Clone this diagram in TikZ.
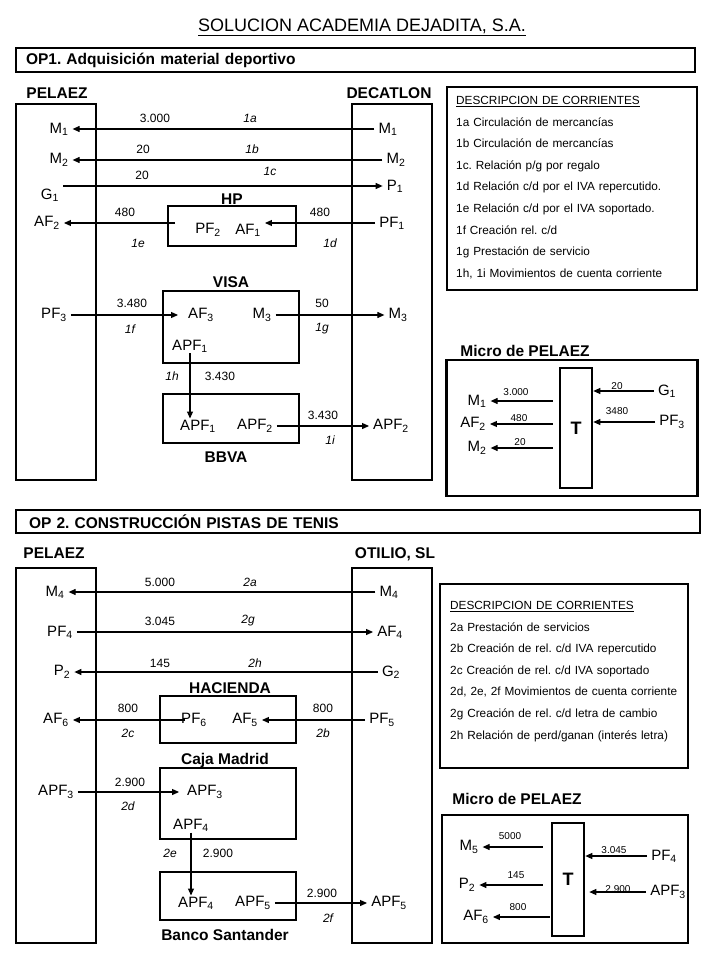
\documentclass[tikz,border=0pt]{standalone}
\usepackage{fontspec}
\setmainfont{Liberation Sans}
\usetikzlibrary{arrows.meta}
\frenchspacing

\begin{document}
\begin{tikzpicture}[x=1pt,y=-1pt, every node/.style={font=\fontsize{15}{17}\selectfont},
  caja/.style={draw,line width=2.6pt,inner sep=0pt},
  rotulo/.style={font=\bfseries\fontsize{15.5}{17}\selectfont,inner sep=0pt},
  cabecera/.style={caja,align=left,font=\bfseries\fontsize{15.5}{17}\selectfont},
  cta/.style={inner xsep=4pt,inner ysep=1pt},
  cifra/.style={font=\fontsize{12}{14}\selectfont,inner sep=0pt},
  letra/.style={font=\itshape\fontsize{12}{14}\selectfont,inner sep=0pt},
  mini/.style={font=\fontsize{10}{12}\selectfont,inner sep=0pt},
  descr/.style={anchor=north west,inner sep=0pt,text width=236pt,align=left,
                font=\fontsize{11.8}{21.6}\selectfont},
  letraT/.style={caja,font=\bfseries\fontsize{18}{20}\selectfont},
  flecha/.style={-{Triangle[length=7pt,width=6pt]},line width=1.1pt}]
\useasboundingbox (0,0) rectangle (720,960);

\node[font=\fontsize{18}{20}\selectfont] (titulo) at (362,27) {\underline{SOLUCION ACADEMIA DEJADITA, S.A.}};

% ---- OP1 ----
\node[cabecera,minimum width=679pt,minimum height=24pt,text width=659pt] (op1) at (355.5,60) {OP1. Adquisición material deportivo};
\node[caja,minimum width=80pt,minimum height=376pt] (pelaez1) at (56,292) {};
\node[caja,minimum width=80pt,minimum height=376pt] (decatlon) at (392,292) {};
\node[rotulo] (lpelaez1) at (57,93) {PELAEZ};
\node[rotulo] (ldecatlon) at (389,93) {DECATLON};
\node[caja,minimum width=128pt,minimum height=40pt] (hp) at (232,226) {};
\node[rotulo] (lhp) at (232,199) {HP};
\node[caja,minimum width=136pt,minimum height=72pt] (visa) at (231,327) {};
\node[rotulo] (lvisa) at (231,282) {VISA};
\node[caja,minimum width=136pt,minimum height=49pt] (bbva) at (231,418.5) {};
\node[rotulo] (lbbva) at (226,457) {BBVA};

\node[cta] (pM1) at (59,129) {M\textsubscript{1}};
\node[cta] (dM1) at (388,129) {M\textsubscript{1}};
\node[cta] (pM2) at (59,160) {M\textsubscript{2}};
\node[cta] (dM2) at (396,160) {M\textsubscript{2}};
\node[cta] (pG1) at (50,195) {G\textsubscript{1}};
\node[cta] (dP1) at (395,186) {P\textsubscript{1}};
\node[cta] (pAF2) at (47,223) {AF\textsubscript{2}};
\node[cta] (hPF2) at (208,230) {PF\textsubscript{2}};
\node[cta] (hAF1) at (248,230) {AF\textsubscript{1}};
\node[cta] (dPF1) at (392,223) {PF\textsubscript{1}};
\node[cta] (pPF3) at (54,315) {PF\textsubscript{3}};
\node[cta] (vAF3) at (201,315) {AF\textsubscript{3}};
\node[cta] (vM3) at (262,315) {M\textsubscript{3}};
\node[cta] (dM3) at (398,315) {M\textsubscript{3}};
\node[cta] (vAPF1) at (190,346) {APF\textsubscript{1}};
\node[cta] (bAPF1) at (198,426) {APF\textsubscript{1}};
\node[cta] (bAPF2) at (255,426) {APF\textsubscript{2}};
\node[cta] (dAPF2) at (391,426) {APF\textsubscript{2}};
\coordinate (hpSal) at (175,223);

\draw[flecha] (dM1) -- (pM1);
\draw[flecha] (dM2) -- (pM2);
\draw[flecha] (pG1.east |- dP1) -- (dP1);
\draw[flecha] (hpSal) -- (pAF2);
\draw[flecha] (dPF1) -- (hAF1.east |- dPF1);
\draw[flecha,shorten >=6pt] (pPF3) -- (vAF3);
\draw[flecha] (vM3) -- (dM3);
\draw[flecha] (vAPF1) -- (vAPF1 |- bAPF1.north);
\draw[flecha] (bAPF2) -- (dAPF2);

\foreach \x/\y/\t [count=\i] in {155/118/3.000, 143/149/20, 142/175/20, 125/212/480, 320/212/480,
    132/303/3.480, 322/303/50, 220/376/3.430, 323/415/3.430}
  \node[cifra] (cifra1-\i) at (\x,\y) {\t};
\foreach \x/\y/\t [count=\i] in {250/118/1a, 252/149/1b, 270/171/1c, 330/243/1d, 138/243/1e,
    130/329/1f, 322/329/1g, 172/376/1h, 330/440/1i}
  \node[letra] (letra1-\i) at (\x,\y) {\t};

\node[caja,minimum width=250pt,minimum height=203pt] (desc1) at (572,188.5) {};
\node[descr] (tdesc1) at (456,96) {\underline{DESCRIPCION DE CORRIENTES}\\
  1a Circulación de mercancías\\
  1b Circulación de mercancías\\
  1c. Relación p/g por regalo\\
  1d Relación c/d por el IVA repercutido.\\
  1e Relación c/d por el IVA soportado.\\
  1f Creación rel. c/d\\
  1g Prestación de servicio\\
  1h, 1i Movimientos de cuenta corriente};

% micro 1
\node[rotulo] (lmicro1) at (525,351) {Micro de PELAEZ};
\node[caja,minimum width=251pt,minimum height=136pt] (micro1) at (572,428) {};
\node[letraT,minimum width=32pt,minimum height=120pt] (tbox1) at (576,428) {T};
\node[cta] (mM1) at (477,401) {M\textsubscript{1}};
\node[cta] (mAF2) at (473,424) {AF\textsubscript{2}};
\node[cta] (mM2) at (477,448) {M\textsubscript{2}};
\node[cta] (mG1) at (667,391) {G\textsubscript{1}};
\node[cta] (mPF3) at (672,422) {PF\textsubscript{3}};
\foreach \n in {mM1, mAF2, mM2}
  \draw[flecha,shorten <=6pt] (tbox1.west |- \n) -- (\n);
\foreach \n in {mG1, mPF3}
  \draw[flecha] (\n) -- (tbox1.east |- \n);
\foreach \x/\y/\t [count=\i] in {516/392/3.000, 519/418/480, 520/442/20, 617/386/20, 617/411/3480}
  \node[mini] (mini1-\i) at (\x,\y) {\t};

% ---- OP2 ----
\node[cabecera,minimum width=684pt,minimum height=23pt,text width=658pt] (op2) at (358,521.5) {OP 2. CONSTRUCCIÓN PISTAS DE TENIS};
\node[caja,minimum width=80pt,minimum height=375pt] (pelaez2) at (56,755.5) {};
\node[caja,minimum width=80pt,minimum height=375pt] (otilio) at (392,755.5) {};
\node[rotulo] (lpelaez2) at (54,553) {PELAEZ};
\node[rotulo] (lotilio) at (395,554) {OTILIO, SL};
\node[caja,minimum width=136pt,minimum height=47pt] (hacienda) at (228,719.5) {};
\node[rotulo] (lhacienda) at (230,688) {HACIENDA};
\node[caja,minimum width=136pt,minimum height=71pt] (cajamadrid) at (228,803.5) {};
\node[rotulo] (lcajamadrid) at (225,760) {Caja Madrid};
\node[caja,minimum width=136pt,minimum height=48pt] (santander) at (228,896) {};
\node[rotulo] (lsantander) at (225,935) {Banco Santander};

\node[cta] (pM4) at (55,592) {M\textsubscript{4}};
\node[cta] (oM4) at (389,592) {M\textsubscript{4}};
\node[cta] (pPF4) at (60,632) {PF\textsubscript{4}};
\node[cta] (oAF4) at (390,632) {AF\textsubscript{4}};
\node[cta] (pP2) at (62,672) {P\textsubscript{2}};
\node[cta] (oG2) at (391,672) {G\textsubscript{2}};
\node[cta] (pAF6) at (56,720) {AF\textsubscript{6}};
\node[cta] (hPF6) at (194,720) {PF\textsubscript{6}};
\node[cta] (hAF5) at (245,720) {AF\textsubscript{5}};
\node[cta] (oPF5) at (382,720) {PF\textsubscript{5}};
\node[cta] (pAPF3) at (56,792) {APF\textsubscript{3}};
\node[cta] (cAPF3) at (205,792) {APF\textsubscript{3}};
\node[cta] (cAPF4) at (191,825) {APF\textsubscript{4}};
\node[cta] (sAPF4) at (196,903) {APF\textsubscript{4}};
\node[cta] (sAPF5) at (253,903) {APF\textsubscript{5}};
\node[cta] (oAPF5) at (389,903) {APF\textsubscript{5}};

\draw[flecha] (oM4) -- (pM4);
\draw[flecha] (pPF4) -- (oAF4);
\draw[flecha] (oG2) -- (pP2);
\draw[flecha,shorten <=-8pt] (hPF6) -- (pAF6);
\draw[flecha] (oPF5) -- (hAF5);
\draw[flecha,shorten >=4pt] (pAPF3) -- (cAPF3);
\draw[flecha] (cAPF4) -- (cAPF4 |- sAPF4.north);
\draw[flecha] (sAPF5) -- (oAPF5);

\foreach \x/\y/\t [count=\i] in {160/582/5.000, 160/621/3.045, 160/663/145, 128/708/800, 323/708/800,
    130/782/2.900, 218/853/2.900, 322/893/2.900}
  \node[cifra] (cifra2-\i) at (\x,\y) {\t};
\foreach \x/\y/\t [count=\i] in {250/582/2a, 248/621/2g, 255/663/2h, 128/733/2c, 323/733/2b,
    128/806/2d, 170/853/2e, 328/918/2f}
  \node[letra] (letra2-\i) at (\x,\y) {\t};

\node[caja,minimum width=248pt,minimum height=184pt] (desc2) at (564,676) {};
\node[descr] (tdesc2) at (450,601) {\underline{DESCRIPCION DE CORRIENTES}\\
  2a Prestación de servicios\\
  2b Creación de rel. c/d IVA repercutido\\
  2c Creación de rel. c/d IVA soportado\\
  2d, 2e, 2f Movimientos de cuenta corriente\\
  2g Creación de rel. c/d letra de cambio\\
  2h Relación de perd/ganan (interés letra)};

% micro 2
\node[rotulo] (lmicro2) at (517,799) {Micro de PELAEZ};
\node[caja,minimum width=246pt,minimum height=128pt] (micro2) at (565,879) {};
\node[letraT,minimum width=32pt,minimum height=113pt] (tbox2) at (568,879.5) {T};
\node[cta] (mM5) at (469,847) {M\textsubscript{5}};
\node[cta] (mP2) at (467,885) {P\textsubscript{2}};
\node[cta] (mAF6) at (476,917) {AF\textsubscript{6}};
\node[cta] (mPF4) at (664,856) {PF\textsubscript{4}};
\node[cta] (mAPF3) at (668,892) {APF\textsubscript{3}};
\foreach \n/\s in {mM5/8pt, mP2/8pt, mAF6/1pt}
  \draw[flecha,shorten <=\s] (tbox2.west |- \n) -- (\n);
\draw[flecha] (mPF4) -- (tbox2.east |- mPF4);
\draw[flecha,shorten >=4pt] (mAPF3) -- (tbox2.east |- mAPF3);
\foreach \x/\y/\t [count=\i] in {510/836/5000, 516/875/145, 518/907/800, 614/850/3.045, 618/889/2.900}
  \node[mini] (mini2-\i) at (\x,\y) {\t};
\end{tikzpicture}
\end{document}
